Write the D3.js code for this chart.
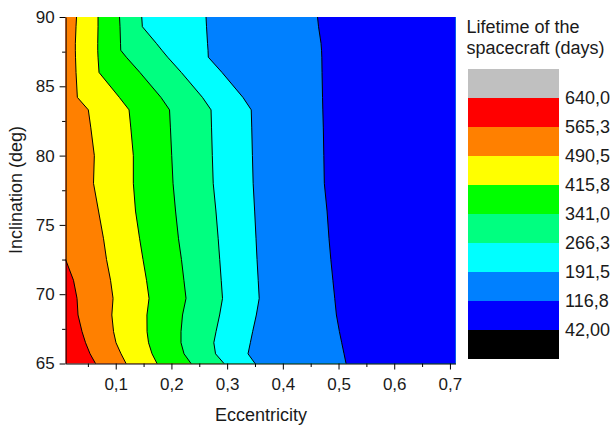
<!DOCTYPE html>
<html><head><meta charset="utf-8">
<script src="https://cdn.jsdelivr.net/npm/d3@7"></script>
<style>
html,body{margin:0;padding:0;background:#fff;}
svg{display:block;font-family:"Liberation Sans",Arial,sans-serif;}
</style></head>
<body><svg id="c" width="612" height="426"></svg>
<script>
// Inclination (deg) at which each contour line was read
const inclination = [90, 89.3, 88.1, 87.6, 87.1, 86, 84.2, 83.3, 82, 80, 78, 76, 74, 72.5, 71, 69.7, 68.5, 67.3, 66.5, 65.7, 65];
// Eccentricity of each contour line (boundary between two lifetime bands)
const line565 = [0.01,0.01,0.01,0.01,0.01,0.01,0.01,0.01,0.01,0.01,0.01,0.01,0.01,0.01,0.0242,0.0305,0.0323,0.0395,0.0458,0.0539,0.0637];
const line490 = [0.0296,0.0287,0.0275,0.0275,0.0278,0.0287,0.0311,0.0508,0.0553,0.0616,0.0601,0.0691,0.0781,0.0835,0.0907,0.0952,0.0930,0.0961,0.1005,0.1095,0.1185];
const line416 = [0.0682,0.0682,0.0677,0.0677,0.0682,0.0700,0.1065,0.1239,0.1271,0.1316,0.1316,0.1355,0.1429,0.1490,0.1553,0.1598,0.1560,0.1562,0.1589,0.1652,0.1741];
const line341 = [0.1068,0.1077,0.1086,0.1090,0.1190,0.1434,0.1812,0.1966,0.1982,0.2005,0.2029,0.2074,0.2127,0.2180,0.2224,0.2262,0.2199,0.2172,0.2172,0.2226,0.2352];
const line266 = [0.1467,0.1478,0.1729,0.1829,0.1932,0.2178,0.2557,0.2711,0.2720,0.2734,0.2750,0.2799,0.2840,0.2867,0.2894,0.2917,0.2865,0.2801,0.2761,0.2792,0.2944];
const line192 = [0.2621,0.2630,0.2648,0.2657,0.2662,0.2908,0.3284,0.3433,0.3442,0.3454,0.3467,0.3494,0.3519,0.3537,0.3558,0.3576,0.3524,0.3458,0.3417,0.3375,0.3501];
const line117 = [0.4623,0.4641,0.4686,0.4695,0.4700,0.4704,0.4713,0.4718,0.4727,0.4736,0.4745,0.4794,0.4829,0.4862,0.4899,0.4932,0.4962,0.5016,0.5057,0.5099,0.5135];

// Legend
const legendLabels = ["640,0","565,3","490,5","415,8","341,0","266,3","191,5","116,8","42,00"];
const legendColors = ["#C0C0C0","#FF0000","#FF8000","#FFFF00","#00FF00","#00FF80","#00FFFF","#0080FF","#0000FF","#000000"];
// Band colours in the plot, from highest lifetime (left) to lowest (right)
const bandColors = ["#FF0000","#FF8000","#FFFF00","#00FF00","#00FF80","#00FFFF","#0080FF","#0000FF"];
const eccDomain = [0.01, 0.71];
const incDomain = [65, 90];
const xTicks = [0.1,0.2,0.3,0.4,0.5,0.6,0.7];
const xMinor = [0.05,0.15,0.25,0.35,0.45,0.55,0.65];
const yTicks = [65,70,75,80,85,90];
const yMinor = [67.5,72.5,77.5,82.5,87.5];

const svg = d3.select("#c");
const x = d3.scaleLinear().domain(eccDomain).range([65.6, 455.5]);
const y = d3.scaleLinear().domain(incDomain).range([363.5, 17]);

const lines = [line565, line490, line416, line341, line266, line192, line117];
const g = svg.append("g");

// Bands: each band painted from its left contour to the right edge, layered
const leftEdges = [inclination.map(() => eccDomain[0])].concat(lines);
leftEdges.forEach((edge, i) => {
  const pts = inclination.map((inc, j) => ({inc, e: edge[j]}));
  const area = d3.area()
    .y(d => y(d.inc))
    .x0(d => x(d.e))
    .x1(() => x(eccDomain[1]));
  g.append("path").datum(pts).attr("d", area).attr("fill", bandColors[i]).attr("stroke","none");
});

// Contour lines
const lineGen = d3.line().x(d => x(d.e)).y(d => y(d.inc));
lines.forEach((ln, i) => {
  let pts = inclination.map((inc, j) => ({inc, e: ln[j]}));
  if (i === 0) pts = pts.filter((d, j) => j >= 13);
  g.append("path").datum(pts).attr("d", lineGen)
    .attr("fill","none").attr("stroke","#000").attr("stroke-width",1);
});

const fmt = d => d3.format(".1f")(d).replace(".", ",");
const textColor = "#1a1a1a";

// X axis
const xAxis = svg.append("g").attr("transform","translate(0,363.5)")
  .call(d3.axisBottom(x).tickValues(xTicks).tickFormat(fmt).tickSize(6).tickSizeOuter(0).tickPadding(8));
svg.append("g").attr("transform","translate(0,363.5)")
  .call(d3.axisBottom(x).tickValues(xMinor).tickFormat("").tickSize(3.5).tickSizeOuter(0))
  .select(".domain").remove();
// Y axis
const yAxis = svg.append("g").attr("transform","translate(65.6,0)")
  .call(d3.axisLeft(y).tickValues(yTicks).tickSize(6).tickSizeOuter(0).tickPadding(5));
svg.append("g").attr("transform","translate(65.6,0)")
  .call(d3.axisLeft(y).tickValues(yMinor).tickFormat("").tickSize(3.5).tickSizeOuter(0))
  .select(".domain").remove();

svg.selectAll(".tick text").attr("font-size", 17).attr("fill", textColor).attr("font-family","Liberation Sans, Arial, sans-serif");
svg.selectAll(".domain, .tick line").attr("stroke","#000");

// Axis titles
svg.append("text").attr("x", 261).attr("y", 421).attr("text-anchor","middle")
  .attr("font-size", 18).attr("fill", textColor).text("Eccentricity");
svg.append("text").attr("transform","translate(22,190) rotate(-90)").attr("text-anchor","middle")
  .attr("font-size", 18).attr("fill", textColor).text("Inclination (deg)");

// Legend
svg.append("text").attr("x", 466.5).attr("y", 33.3).attr("font-size", 18).attr("fill", textColor).text("Lifetime of the");
svg.append("text").attr("x", 466.5).attr("y", 54).attr("font-size", 18).attr("fill", textColor).text("spacecraft (days)");
const ly = d3.scaleBand().domain(d3.range(legendColors.length)).range([69, 359]).padding(0);
svg.append("g").selectAll("rect").data(legendColors).join("rect")
  .attr("x", 468).attr("width", 91)
  .attr("y", (d,i) => ly(i)).attr("height", ly.bandwidth())
  .attr("fill", d => d);
svg.append("g").selectAll("text").data(legendLabels).join("text")
  .attr("x", 565).attr("y", (d,i) => ly(i) + ly.bandwidth())
  .attr("dy", "0.36em").attr("font-size", 18).attr("fill", textColor).text(d => d);
</script></body></html>
